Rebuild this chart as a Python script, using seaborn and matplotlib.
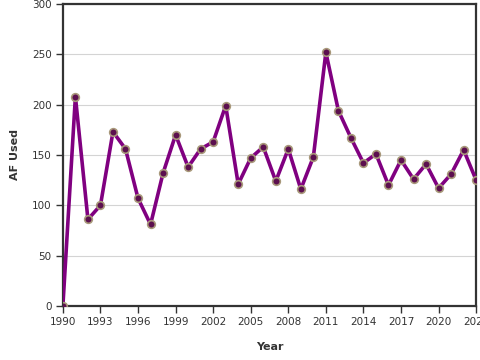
import matplotlib
matplotlib.use('Agg')
import matplotlib.pyplot as plt
import seaborn as sns
import pandas as pd

# data
years = list(range(1990, 2024))
af_used = [0, 208, 86, 100, 173, 156, 107, 81, 132, 170,
           138, 156, 163, 199, 121, 147, 158, 124, 156, 116,
           148, 252, 194, 167, 142, 151, 120, 145, 126, 141,
           117, 131, 155, 125]
x_ticks = list(range(1990, 2024, 3))
y_ticks = [0, 50, 100, 150, 200, 250, 300]

df = pd.DataFrame({'Year': years, 'AF Used': af_used})

sns.set_style('white')
plt.rcParams['font.family'] = ['DejaVu Sans']

fig = plt.figure(figsize=(4.8, 3.6), dpi=100)
ax = fig.add_axes([0.131, 0.15, 0.861, 0.839])

sns.lineplot(data=df, x='Year', y='AF Used', ax=ax, color='#800080',
             linewidth=2.6, marker='o', markersize=5.5,
             markerfacecolor='#5c0f4f', markeredgecolor='#a8987a',
             markeredgewidth=1.2, zorder=3)

ax.set_xlim(1990, 2023)
ax.set_ylim(0, 300)
ax.set_xticks(x_ticks)
ax.set_yticks(y_ticks)
ax.yaxis.grid(True, color='#d4d4d4', linewidth=0.8)
ax.set_axisbelow(True)

for s in ax.spines.values():
    s.set_color('#333333')
    s.set_linewidth(1.6)

ax.tick_params(axis='both', length=5, width=1, color='#333333',
               labelsize=7.5, labelcolor='#333333', pad=3, bottom=True, left=True)
ax.set_xlabel('Year', fontsize=8, fontweight='bold', color='#333333', labelpad=11)
ax.set_ylabel('AF Used', fontsize=8, fontweight='bold', color='#333333', labelpad=9)

fig.savefig('out.png', dpi=100)
